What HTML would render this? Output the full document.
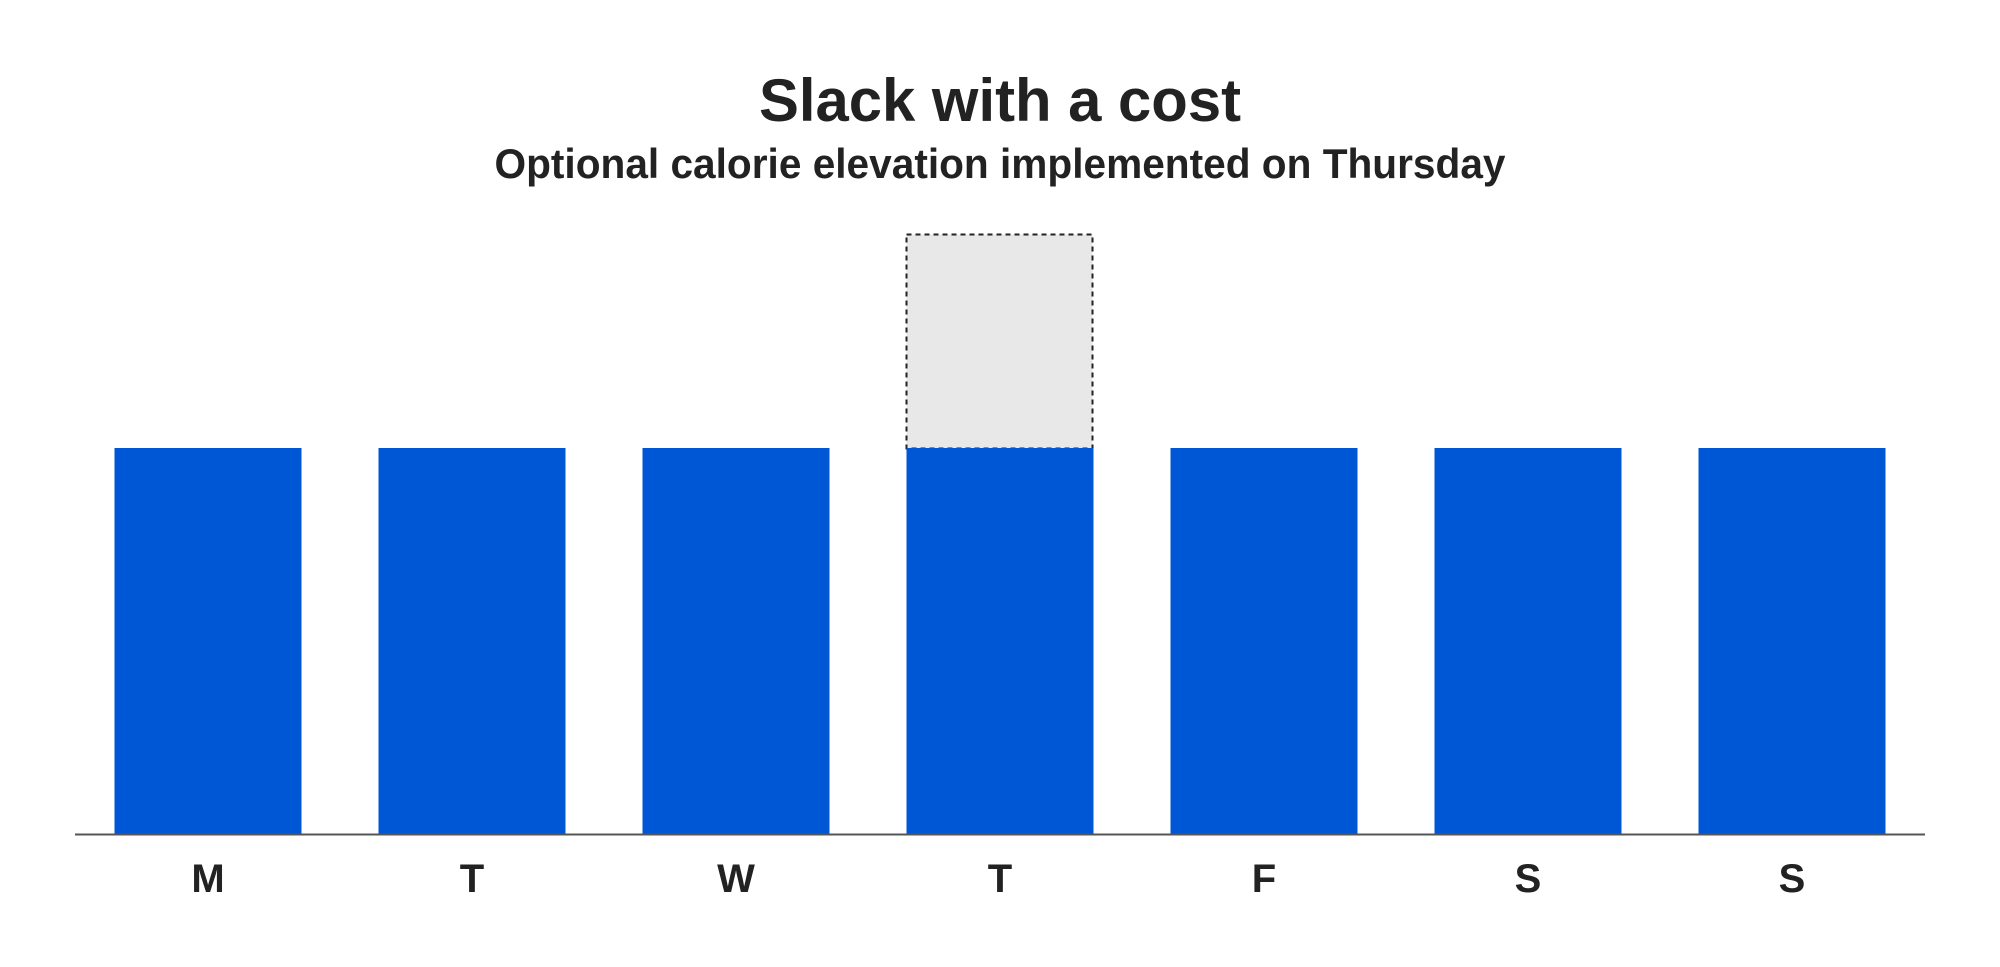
<!DOCTYPE html>
<html><head><meta charset="utf-8"><style>
html,body{margin:0;padding:0;background:#fff;}
svg{display:block;}
text{font-family:"Liberation Sans",sans-serif;font-weight:bold;fill:#222;}
</style></head><body>
<svg width="2000" height="967" viewBox="0 0 2000 967" xmlns="http://www.w3.org/2000/svg">
<text x="1000" y="121" font-size="60" text-anchor="middle" textLength="482" lengthAdjust="spacingAndGlyphs">Slack with a cost</text>
<text x="1000" y="178" font-size="42" text-anchor="middle" textLength="1011" lengthAdjust="spacingAndGlyphs">Optional calorie elevation implemented on Thursday</text>
<rect x="906.5" y="234.5" width="186" height="214" fill="#e8e8e8" stroke="#222" stroke-width="2" stroke-dasharray="5,4"/>
<g fill="#0057d6">
<rect x="114.5" y="448" width="187" height="386"/>
<rect x="378.5" y="448" width="187" height="386"/>
<rect x="642.5" y="448" width="187" height="386"/>
<rect x="906.5" y="448" width="187" height="386"/>
<rect x="1170.5" y="448" width="187" height="386"/>
<rect x="1434.5" y="448" width="187" height="386"/>
<rect x="1698.5" y="448" width="187" height="386"/>
</g>
<line x1="75" y1="834.5" x2="1925" y2="834.5" stroke="#555" stroke-width="2"/>
<g font-size="40" text-anchor="middle">
<text x="208" y="892">M</text>
<text x="472" y="892">T</text>
<text x="736" y="892">W</text>
<text x="1000" y="892">T</text>
<text x="1264" y="892">F</text>
<text x="1528" y="892">S</text>
<text x="1792" y="892">S</text>
</g>
</svg>
</body></html>
